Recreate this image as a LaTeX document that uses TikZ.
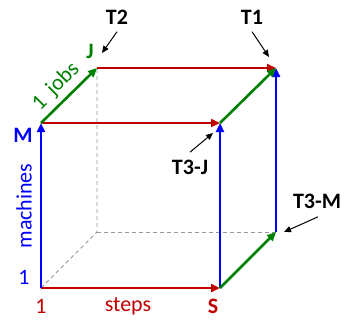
\documentclass[tikz,border=0pt]{standalone}
\usepackage{fontspec}
\setmainfont{Carlito}
\usetikzlibrary{arrows.meta, positioning}
\definecolor{stepred}{RGB}{192,0,0}
\definecolor{machblue}{RGB}{0,0,255}
\definecolor{jobgreen}{RGB}{0,128,0}

\begin{document}
\begin{tikzpicture}[x=1pt, y=1pt,
            font=\fontsize{22}{26}\selectfont,
            edge/.style={line width=2.6pt, -{Triangle[length=9pt,width=8pt]}},
            hidden/.style={gray!80, line width=0.8pt, dash pattern=on 4pt off 3pt},
            note/.style={line width=1pt, -{Triangle[length=7pt,width=6pt]}},
            tag/.style={font=\fontsize{22}{26}\selectfont\bfseries}]
            \useasboundingbox (0,0) rectangle (344,322);
            \coordinate (O) at (41,34);
            \coordinate (S) at (220,34);
            \coordinate (M) at (41,199);
            \coordinate (F) at (220,199);
            \coordinate (B) at (97,90);
            \coordinate (R) at (276,90);
            \coordinate (J) at (97,254);
            \coordinate (T) at (276,254);

            \draw[hidden] (O) -- (B) -- (J);
            \draw[hidden] (B) -- (R);

            \draw[edge, stepred] (O) -- (S);
            \draw[edge, stepred] (M) -- (F);
            \draw[edge, stepred] (J) -- (T);
            \draw[edge, machblue] (O) -- (M);
            \draw[edge, machblue] (S) -- (F);
            \draw[edge, machblue] (R) -- (T);
            \draw[edge, jobgreen] (M) -- (J);
            \draw[edge, jobgreen] (F) -- (T);
            \draw[edge, jobgreen] (S) -- (R);

            \node[stepred] (s1) at (41,16) {1};
            \node[stepred] (steps) at (128,16) {steps};
            \node[tag, stepred] (sS) at (213,16) {S};
            \node[machblue] (m1) at (24,45) {1};
            \node[machblue, rotate=90] (machines) at (24,116) {machines};
            \node[tag, machblue] (mM) at (23,187) {M};
            \node[jobgreen, rotate=45, inner sep=0pt] (j1) at (39,219) {1};
            \node[jobgreen, rotate=45, inner sep=0pt] (jobs) at (63,243) {jobs};
            \node[tag, jobgreen, inner sep=1pt] (jJ) at (90,271) {J};

            \node[tag] (t1) at (252,305) {T1};
            \node[tag] (t2) at (117,305) {T2};
            \node[tag] (t3j) at (190,155) {T3-J};
            \node[tag] (t3m) at (317,121) {T3-M};
            \coordinate (t1tip) at (269,265);
            \coordinate (t2tip) at (102,269);
            \coordinate (t3jtip) at (213,189);
            \coordinate (t3mtip) at (284,90);
            \draw[note] ([yshift=-4pt]t1.south) -- (t1tip);
            \draw[note] ([yshift=-4pt]t2.south) -- (t2tip);
            \draw[note] ([yshift=4pt]t3j.north) -- (t3jtip);
            \draw[note] ([xshift=1pt,yshift=-5pt]t3m.south) -- (t3mtip);
        \end{tikzpicture}
\end{document}
